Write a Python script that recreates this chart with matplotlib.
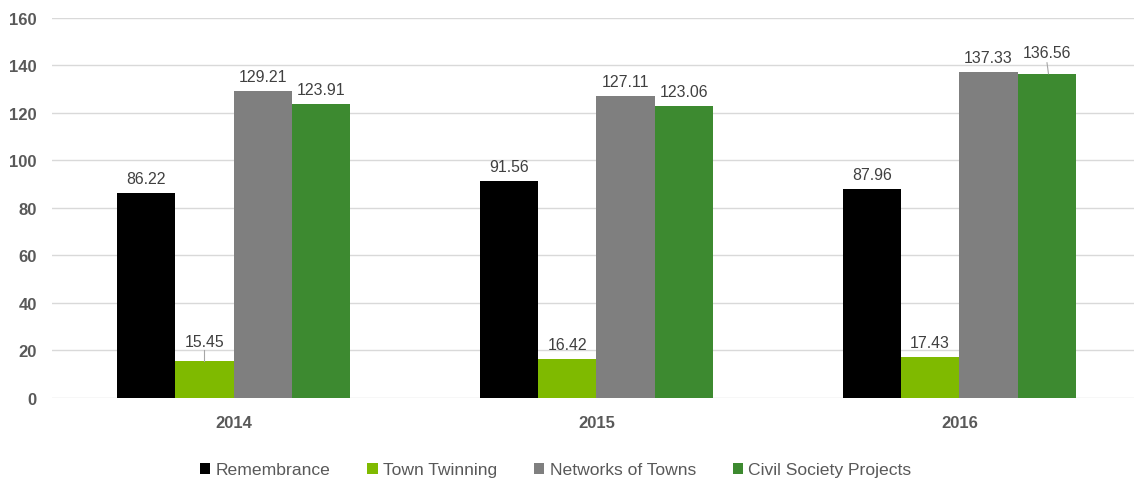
import matplotlib
matplotlib.use("Agg")
import matplotlib.pyplot as plt
import numpy as np

plt.rcParams["font.family"] = ["Liberation Sans", "DejaVu Sans"]

years = ["2014", "2015", "2016"]
series = ["Remembrance", "Town Twinning", "Networks of Towns", "Civil Society Projects"]
remembrance = [86.22, 91.56, 87.96]
town_twinning = [15.45, 16.42, 17.43]
networks = [129.21, 127.11, 137.33]
civil_society = [123.91, 123.06, 136.56]

colors = ["#000000", "#7FBA00", "#7F7F7F", "#3D8A30"]
text_col = "#595959"


def main():
    fig = plt.figure(figsize=(11.34, 4.81), dpi=100)
    ax = fig.add_axes([0.046, 0.1705, 0.96, 0.79])
    x = np.arange(len(years))
    w = 0.161
    values = [remembrance, town_twinning, networks, civil_society]
    for i, (name, vals, c) in enumerate(zip(series, values, colors)):
        pos = x + (i - 1.5) * w
        ax.bar(pos, vals, w, color=c, label=name, zorder=3)
        for j, (p, v) in enumerate(zip(pos, vals)):
            lift = 5
            # Excel-style leader lines for the nudged labels
            if name == "Town Twinning" and j == 0:
                lift = 9
                ax.plot([p, p], [v, v + 4.6], color="#A6A6A6", lw=0.8, zorder=4)
            if name == "Civil Society Projects" and j == 2:
                lift = 10
                ax.plot([p + 0.004, p], [v, v + 4.6], color="#A6A6A6", lw=0.8, zorder=4)
            ax.annotate(f"{v:.2f}", xy=(p, v), xytext=(0, lift), textcoords="offset points",
                        ha="center", va="bottom", fontsize=11.4, color="#404040")

    ax.set_xlim(-0.5, 2.5)
    ax.set_ylim(0, 160)
    ax.set_yticks(range(0, 161, 20))
    ax.set_xticks(x)
    ax.set_xticklabels(years, fontsize=12, fontweight="bold", color=text_col)
    for t in ax.get_yticklabels():
        t.set_fontsize(12); t.set_fontweight("bold"); t.set_color(text_col)
    ax.tick_params(axis="x", length=0, pad=12)
    ax.tick_params(axis="y", length=0, pad=11)
    ax.grid(axis="y", color="#D9D9D9", lw=1, zorder=0)
    for s in ax.spines.values():
        s.set_visible(False)

    fig.legend(*ax.get_legend_handles_labels(), loc="center", bbox_to_anchor=(0.49, 0.021),
               ncol=4, frameon=False, fontsize=12.6, handlelength=0.6, handleheight=0.6,
               handletextpad=0.3, columnspacing=2.1, labelcolor=text_col, borderpad=0)
    fig.savefig("out.png", dpi=100)


if __name__ == "__main__":
    main()
